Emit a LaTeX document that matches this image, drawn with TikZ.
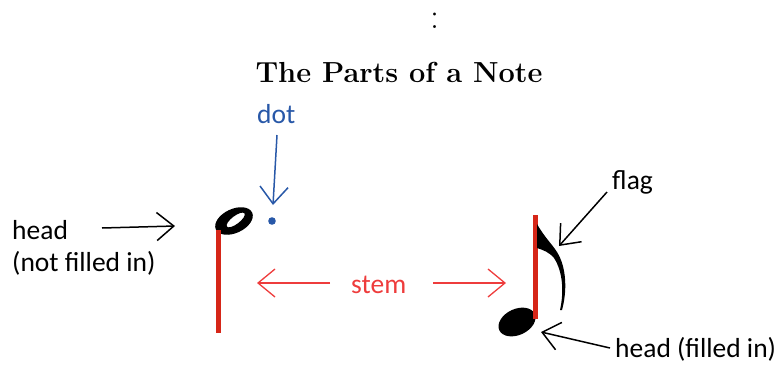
\documentclass[tikz,border=0pt]{standalone}
\usepackage{fontspec}
\newfontfamily\labelfont{Carlito}
\usetikzlibrary{arrows.meta}
\definecolor{stemred}{RGB}{214,38,24}
\definecolor{lblred}{RGB}{238,60,60}
\definecolor{lblblue}{RGB}{40,88,168}
\tikzset{
  lbl/.style={font=\labelfont\fontsize{27.5}{32}\selectfont, inner sep=0pt, anchor=base west},
  barb/.style={-{Straight Barb[length=17pt,width=28pt]}, line width=1.5pt},
  stemline/.style={draw=stemred, line width=5pt},
}
\begin{document}
\begin{tikzpicture}[x=1pt,y=-1pt]
\useasboundingbox (0,0) rectangle (782,365);
% colon and title
\node[inner sep=0pt, anchor=base, font=\fontsize{36}{40}\selectfont] (colon) at (435,28) {:};
\node[inner sep=0pt, anchor=base, font=\fontsize{29}{34}\selectfont\bfseries] (title) at (399,82) {The Parts of a Note};
% half note
\fill[even odd rule]
  [rotate around={25:(234,221)}] (234,221) ellipse [x radius=20pt, y radius=12pt]
  [rotate around={12:(235,221)}] (236,221) ellipse [x radius=11pt, y radius=4pt];
\coordinate (ltop) at (218,230);
\coordinate (lbot) at (218,333);
\draw[stemline] (ltop) -- (lbot);
\fill[lblblue] (272,221) circle [radius=3.8pt];
% eighth note
\fill[rotate around={25:(517,322)}] (517,322) ellipse [x radius=19.5pt, y radius=13pt];
\coordinate (rtop) at (535,215);
\coordinate (rbot) at (535,319);
\draw[stemline] (rtop) -- (rbot);
\fill (537,224) .. controls (545,238) and (552,244) .. (557,252)
  .. controls (567,268) and (567,292) .. (562,310)
  -- (560,310) .. controls (564,292) and (563,272) .. (554,258)
  .. controls (549,252) and (543,250) .. (537,248) -- cycle;
% labels
\node[lbl] (headl) at (12,239) {head};
\node[lbl] (headl2) at (12,271) {(not filled in)};
\node[lbl, text=lblblue] (dot) at (257,123) {dot};
\node[lbl, text=lblred] (stem) at (351,293) {stem};
\node[lbl] (flag) at (612,189) {flag};
\node[lbl] (headr) at (615,357) {head (filled in)};
% arrows
\coordinate (a1s) at (102,228);
\coordinate (a1e) at (175,226);
\draw[barb] (a1s) -- (a1e);
\coordinate (a2s) at (277,135);
\coordinate (a2e) at (273,205);
\draw[barb, draw=lblblue] (a2s) -- (a2e);
\coordinate (a3s) at (330,283);
\coordinate (a3e) at (257,283);
\draw[barb, draw=lblred, line width=1.3pt] (a3s) -- (a3e);
\coordinate (a4s) at (433,283);
\coordinate (a4e) at (506,283);
\draw[barb, draw=lblred, line width=1.3pt] (a4s) -- (a4e);
\coordinate (a5s) at (607,192);
\coordinate (a5e) at (559,246);
\draw[barb] (a5s) -- (a5e);
\coordinate (a6s) at (610,348);
\coordinate (a6e) at (541,332);
\draw[barb] (a6s) -- (a6e);
\end{tikzpicture}
\end{document}
